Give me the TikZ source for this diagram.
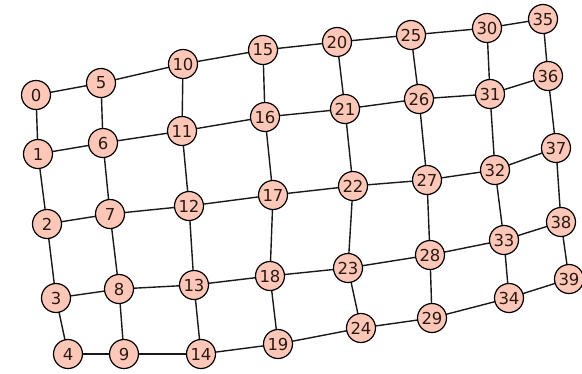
\documentclass[tikz,border=0pt]{standalone}
\usepackage{fontspec}
\setmainfont{DejaVu Sans}
\definecolor{vfill}{HTML}{FEC7B8}
\definecolor{vtext}{HTML}{2A1A14}
\begin{document}
\begin{tikzpicture}[x=1pt,y=-1pt,
  vert/.style={circle,draw=black,line width=1.2pt,fill=vfill,minimum size=29pt,inner sep=0pt,font=\fontsize{16.5}{16.5}\selectfont,text=vtext},
  edge/.style={line width=1.4pt,draw=black!90}]
\useasboundingbox (0,0) rectangle (582,373);
\foreach \n/\x/\y in {0/36/95,1/38/154,2/47/224,3/56/298,4/68/354,
  5/101/83,6/103/143,7/110/214,8/119/289,9/124/354,
  10/183/64,11/182/131,12/189/206,13/194/285,14/201/354,
  15/263/50,16/265/117,17/273/195,18/270/276,19/278/344,
  20/337/42,21/345/109,22/353/186,23/348/268,24/361/328,
  25/411/35,26/419/99,27/427/180,28/430/255,29/432/318,
  30/487/28,31/490/94,32/495/170,33/504/240,34/509/298,
  35/543/19,36/548/76,37/556/148,38/561/222,39/569/279}
  \coordinate (c\n) at (\x,\y);
\foreach \k in {0,...,7}{
  \foreach \i in {0,...,3}{
    \pgfmathtruncatemacro{\a}{5*\k+\i}
    \pgfmathtruncatemacro{\b}{5*\k+\i+1}
    \draw[edge] (c\a) -- (c\b);
  }
}
\foreach \k in {0,...,6}{
  \foreach \i in {0,...,4}{
    \pgfmathtruncatemacro{\a}{5*\k+\i}
    \pgfmathtruncatemacro{\b}{5*\k+\i+5}
    \draw[edge] (c\a) -- (c\b);
  }
}
\foreach \n in {0,...,39}
  \node[vert] (v\n) at (c\n) {\n};
\end{tikzpicture}
\end{document}
